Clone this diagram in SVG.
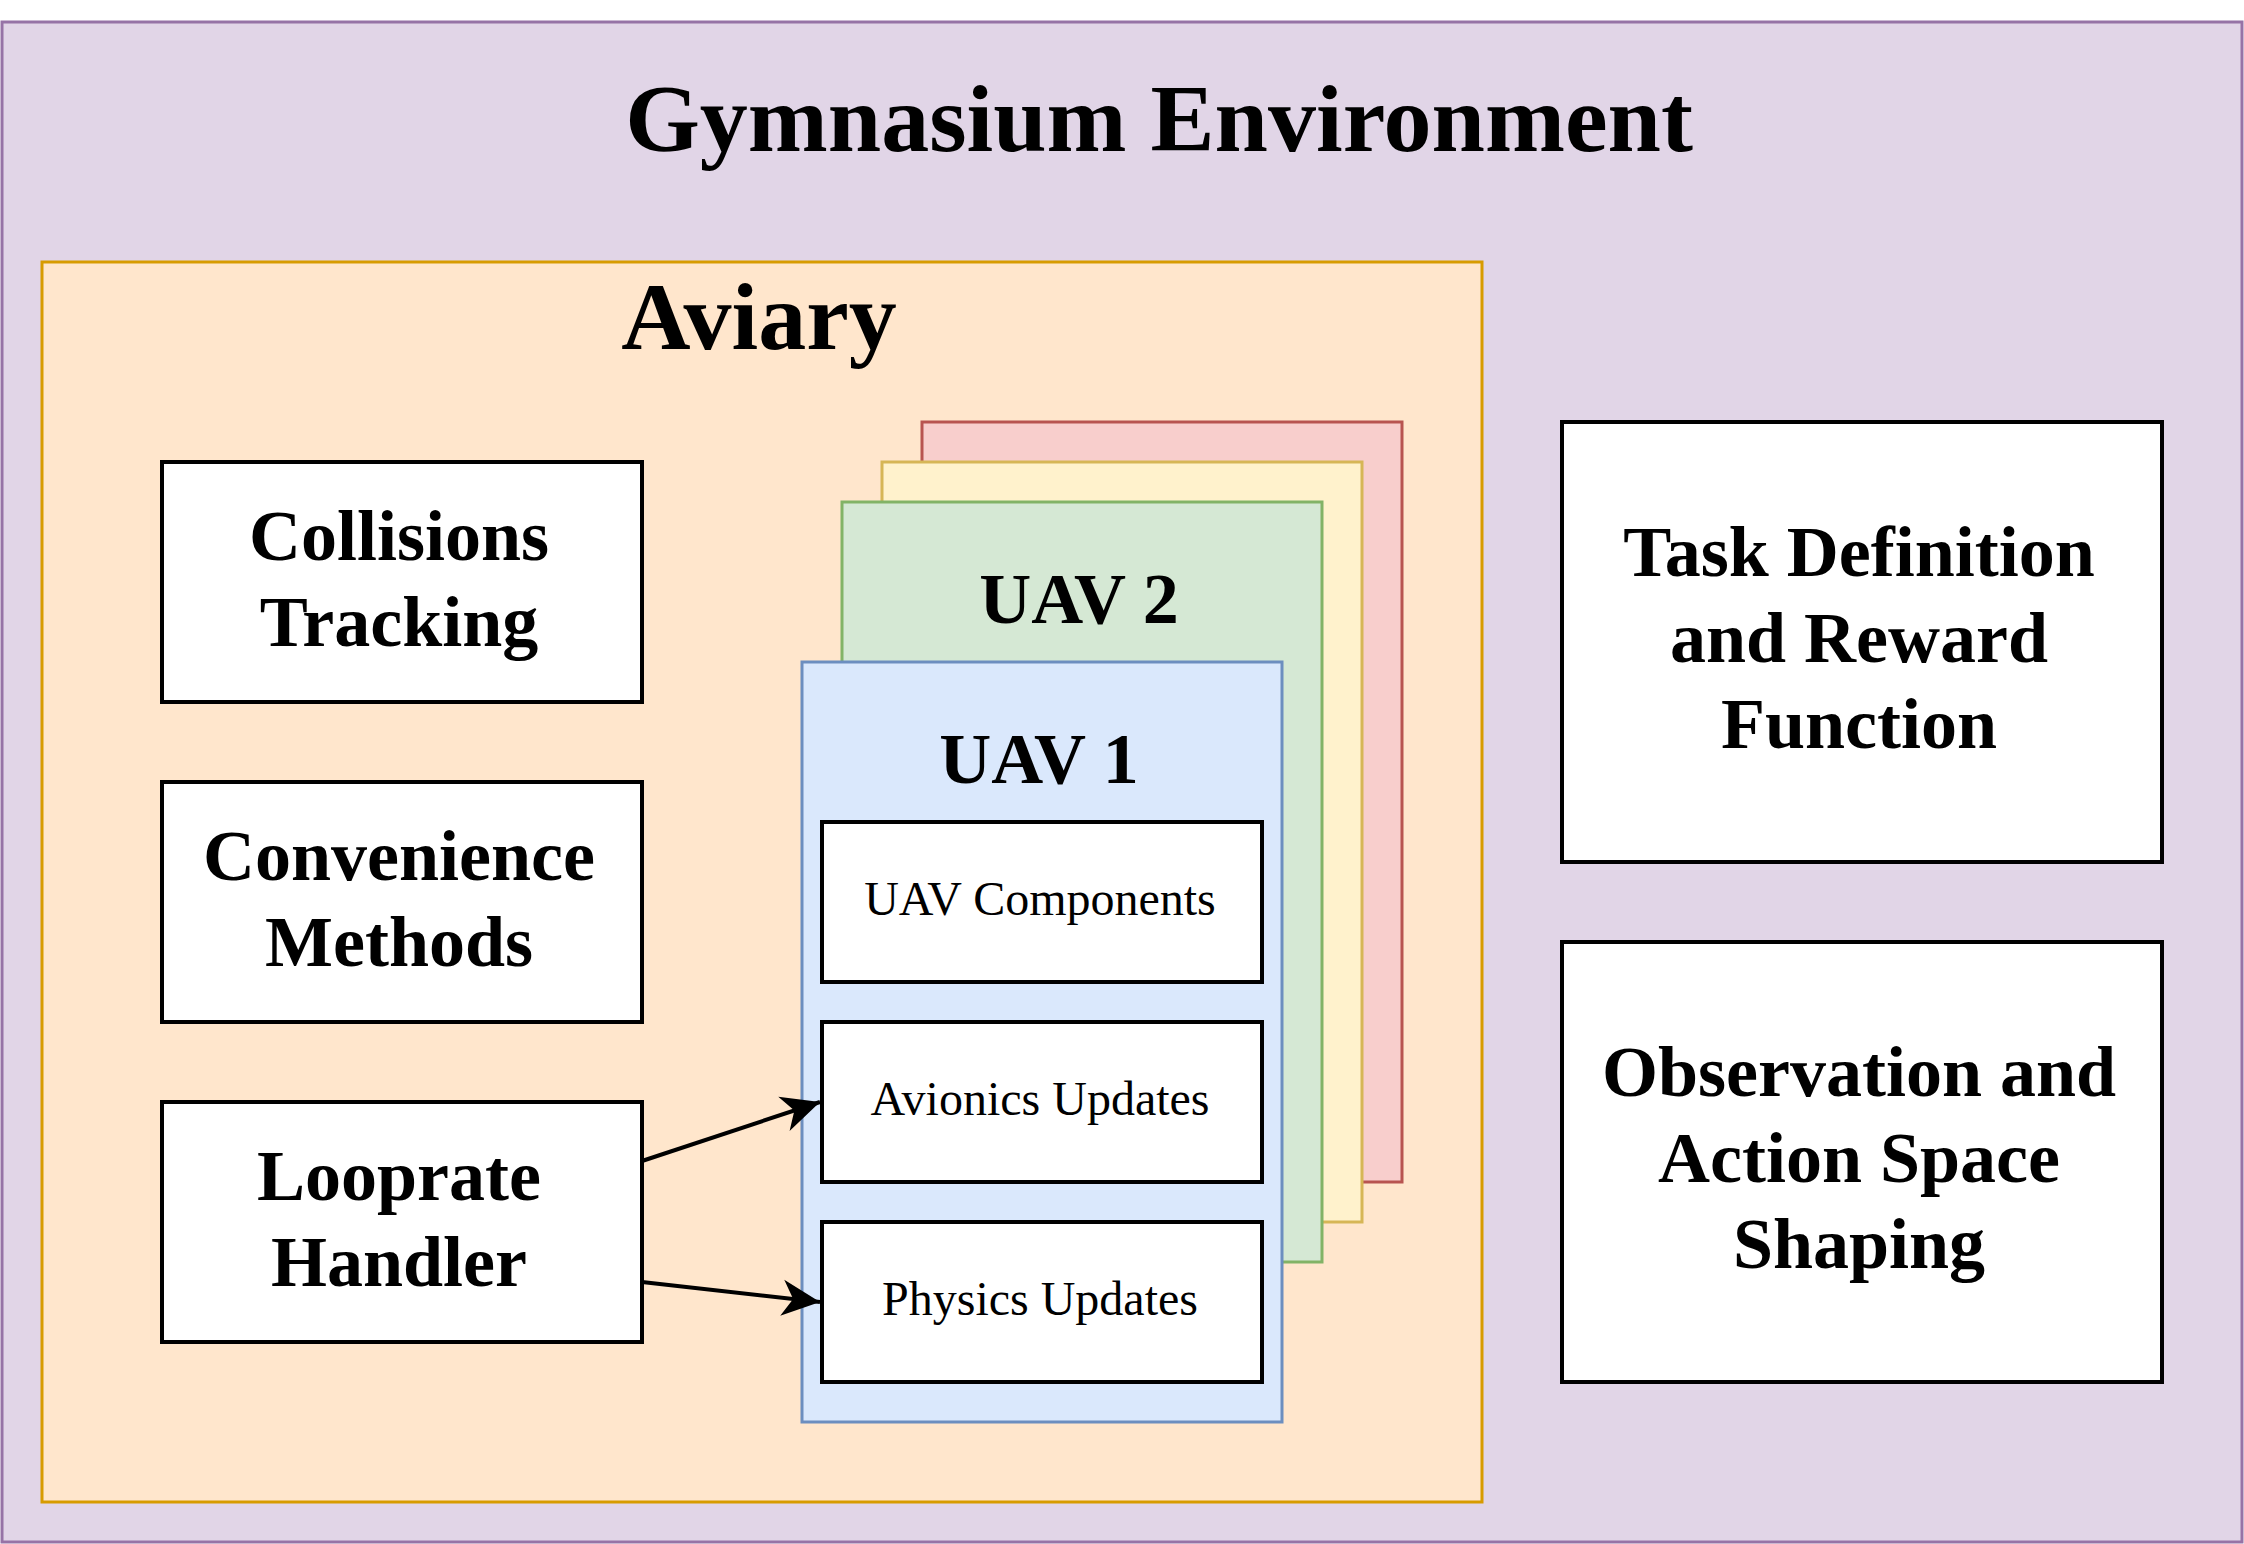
<svg xmlns="http://www.w3.org/2000/svg" width="2244" height="1544" viewBox="0 0 2244 1544">
<style>
text{font-family:"Liberation Serif","Times New Roman",serif;fill:#000;text-anchor:middle}
.t96{font-size:96px;font-weight:bold}
.t72{font-size:72px;font-weight:bold}
.t48{font-size:48px}
.box{fill:#fff;stroke:#000;stroke-width:4}
.conn{stroke:#000;stroke-width:4;fill:none}
</style>
<defs>
<marker id="arr" markerUnits="userSpaceOnUse" markerWidth="44" markerHeight="44" viewBox="-40 -22 44 44" refX="0" refY="0" orient="auto">
<path d="M0,0 L-38,-18 L-27,0 L-38,18 Z" fill="#000"/>
</marker>
</defs>
<rect x="0" y="0" width="2244" height="1544" fill="#fff"/>
<g id="gymnasium">
<rect x="2" y="22" width="2240" height="1520" fill="#e1d5e7" stroke="#9673a6" stroke-width="3"/>
<text class="t96" x="1159" y="151">Gymnasium Environment</text>
</g>
<g id="aviary">
<rect x="42" y="262" width="1440" height="1240" fill="#ffe6cc" stroke="#d79b00" stroke-width="3"/>
<text class="t96" x="759" y="349">Aviary</text>
</g>
<g id="uav-red"><rect x="922" y="422" width="480" height="760" fill="#f8cecc" stroke="#b85450" stroke-width="3"/></g>
<g id="uav-yellow"><rect x="882" y="462" width="480" height="760" fill="#fff2cc" stroke="#d6b656" stroke-width="3"/></g>
<g id="uav2">
<rect x="842" y="502" width="480" height="760" fill="#d5e8d4" stroke="#82b366" stroke-width="3"/>
<text class="t72" x="1079" y="623">UAV 2</text>
</g>
<g id="uav1">
<rect x="802" y="662" width="480" height="760" fill="#dae8fc" stroke="#6c8ebf" stroke-width="3"/>
<text class="t72" x="1039" y="783">UAV 1</text>
</g>
<g id="uav-components">
<rect class="box" x="822" y="822" width="440" height="160"/>
<text class="t48" x="1040" y="915">UAV Components</text>
</g>
<g id="avionics-updates">
<rect class="box" x="822" y="1022" width="440" height="160"/>
<text class="t48" x="1040" y="1115">Avionics Updates</text>
</g>
<g id="physics-updates">
<rect class="box" x="822" y="1222" width="440" height="160"/>
<text class="t48" x="1040" y="1315">Physics Updates</text>
</g>
<g id="collisions-tracking">
<rect class="box" x="162" y="462" width="480" height="240"/>
<text class="t72" x="399" y="560">Collisions</text>
<text class="t72" x="399" y="646">Tracking</text>
</g>
<g id="convenience-methods">
<rect class="box" x="162" y="782" width="480" height="240"/>
<text class="t72" x="399" y="880">Convenience</text>
<text class="t72" x="399" y="966">Methods</text>
</g>
<g id="looprate-handler">
<rect class="box" x="162" y="1102" width="480" height="240"/>
<text class="t72" x="399" y="1200">Looprate</text>
<text class="t72" x="399" y="1286">Handler</text>
</g>
<g id="task-definition">
<rect class="box" x="1562" y="422" width="600" height="440"/>
<text class="t72" x="1859" y="576">Task Definition</text>
<text class="t72" x="1859" y="662">and Reward</text>
<text class="t72" x="1859" y="748">Function</text>
</g>
<g id="observation-action">
<rect class="box" x="1562" y="942" width="600" height="440"/>
<text class="t72" x="1859" y="1096">Observation and</text>
<text class="t72" x="1859" y="1182">Action Space</text>
<text class="t72" x="1859" y="1268">Shaping</text>
</g>
<g id="connectors">
<line class="conn" x1="642" y1="1161" x2="820" y2="1102" marker-end="url(#arr)"/>
<line class="conn" x1="642" y1="1282" x2="820" y2="1302" marker-end="url(#arr)"/>
</g>
</svg>
